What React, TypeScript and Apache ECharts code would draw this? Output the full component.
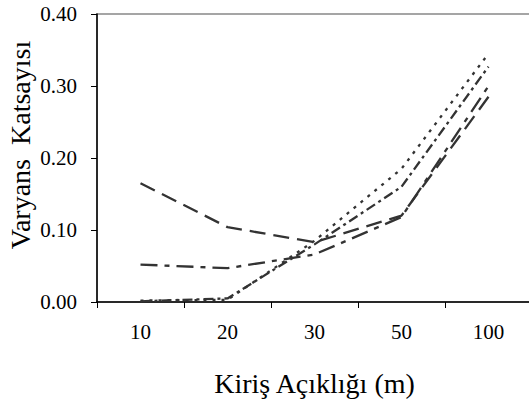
import React, { useEffect, useRef } from "react";
import * as echarts from "echarts";

const categories = ["10", "20", "30", "50", "100"];
const seriesLongDash = [0.165, 0.104, 0.083, 0.12, 0.285];
const seriesDashDot = [0.052, 0.047, 0.066, 0.118, 0.3];
const seriesDotted = [0.002, 0.003, 0.085, 0.185, 0.345];
const seriesDashShort = [0.001, 0.005, 0.08, 0.16, 0.327];

const xTitle = "Kiriş Açıklığı (m)";
const yTitle = "Varyans  Katsayısı";

export default function App() {
  const ref = useRef<HTMLDivElement>(null);
  useEffect(() => {
    if (!ref.current) return;
    const chart = echarts.init(ref.current, null, { renderer: "svg" });
    const font = "'Liberation Serif', 'Times New Roman', 'DejaVu Serif', serif";
    const mk = (name: string, data: number[], dash: number[]) => ({
      name,
      type: "line",
      data,
      symbol: "none",
      smooth: false,
      lineStyle: { color: "#333", width: 2.3, type: dash },
    });
    chart.setOption({
      animation: false,
      textStyle: { fontFamily: font },
      grid: {
        left: 97,
        top: 14,
        width: 435,
        bottom: 102,
        show: true,
        borderColor: "#888",
        borderWidth: 1.5,
        containLabel: false,
        outerBoundsMode: "none",
      },
      graphic: [
        {
          type: "text",
          x: 20,
          y: 145,
          rotation: Math.PI / 2,
          style: {
            text: yTitle,
            fontFamily: font,
            fontSize: 28,
            fill: "#000",
            textAlign: "center",
            textVerticalAlign: "middle",
          },
        },
      ],
      xAxis: {
        type: "category",
        data: categories,
        boundaryGap: true,
        name: xTitle,
        nameLocation: "middle",
        nameGap: 67,
        nameTextStyle: { fontFamily: font, fontSize: 28, color: "#000" },
        axisLine: { lineStyle: { color: "#000", width: 1.5 } },
        axisTick: { show: true, inside: false, length: 6, alignWithLabel: false, lineStyle: { color: "#000" } },
        axisLabel: { fontFamily: font, fontSize: 21, color: "#000", margin: 19 },
        splitLine: { show: false },
      },
      yAxis: {
        type: "value",
        min: 0,
        max: 0.4,
        interval: 0.1,
        axisLine: { show: true, lineStyle: { color: "#000", width: 1.5 } },
        axisTick: { show: true, inside: false, length: 6, lineStyle: { color: "#000" } },
        axisLabel: {
          fontFamily: font,
          fontSize: 21,
          color: "#000",
          margin: 20,
          formatter: (v: number) => v.toFixed(2),
        },
        splitLine: { show: false },
      },
      series: [
        mk("A", seriesLongDash, [16, 8]),
        mk("B", seriesDashDot, [17, 7, 5, 7]),
        mk("C", seriesDotted, [3, 6]),
        mk("D", seriesDashShort, [10, 4, 3, 4]),
      ],
    });
    return () => chart.dispose();
  }, []);
  return <div ref={ref} style={{ width: 529, height: 404, position: "absolute", left: 0, top: 0 }} />;
}
